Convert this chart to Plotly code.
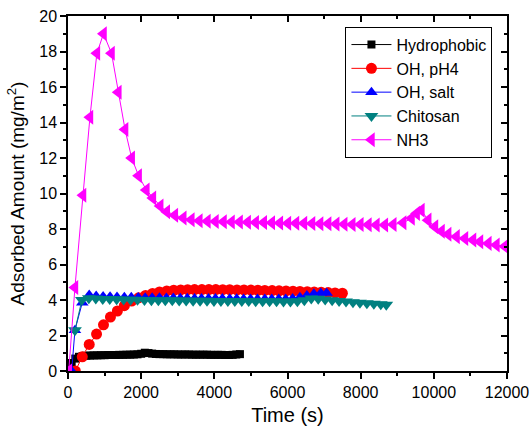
import plotly.graph_objects as go

# Adsorption kinetics: adsorbed amount (mg/m^2) vs time (s) for five surfaces

hydro_t = [0, 100, 200, 300, 400, 500, 600, 700, 800, 900, 1000, 1100, 1200, 1300,
           1400, 1500, 1600, 1700, 1800, 1900, 2000, 2100, 2200, 2300, 2400, 2500,
           2600, 2700, 2800, 2900, 3000, 3100, 3200, 3300, 3400, 3500, 3600, 3700,
           3800, 3900, 4000, 4100, 4200, 4300, 4400, 4500, 4600, 4700]
hydro_v = [0.05, 0.45, 0.7, 0.8, 0.84, 0.86, 0.87, 0.88, 0.88, 0.89, 0.89, 0.9, 0.9, 0.9,
           0.91, 0.91, 0.92, 0.92, 0.93, 0.94, 0.97, 1.03, 1.01, 0.98, 0.96, 0.95,
           0.95, 0.94, 0.94, 0.94, 0.93, 0.93, 0.93, 0.93, 0.92, 0.92, 0.92, 0.92,
           0.92, 0.91, 0.91, 0.91, 0.91, 0.9, 0.9, 0.91, 0.93, 0.95]

ph4_t = [200, 390, 580, 780, 970, 1160, 1350, 1540, 1740, 1930, 2120, 2310, 2500,
         2700, 2890, 3080, 3270, 3460, 3660, 3850, 4040, 4230, 4420, 4620, 4810,
         5000, 5190, 5380, 5580, 5770, 5960, 6150, 6340, 6540, 6730, 6920, 7110,
         7300, 7500]
ph4_v = [0.0, 0.8, 1.5, 2.08, 2.6, 3.04, 3.38, 3.68, 3.94, 4.12, 4.26, 4.37, 4.45,
         4.51, 4.55, 4.57, 4.58, 4.59, 4.59, 4.59, 4.59, 4.58, 4.58, 4.57, 4.57,
         4.56, 4.55, 4.54, 4.53, 4.52, 4.51, 4.5, 4.48, 4.47, 4.45, 4.44, 4.42,
         4.4, 4.38]

salt_t = [100, 190, 390, 580, 770, 960, 1150, 1340, 1540, 1730, 1920, 2110, 2300,
          2500, 2690, 2880, 3070, 3260, 3460, 3650, 3840, 4030, 4220, 4420, 4610,
          4800, 4990, 5180, 5380, 5570, 5760, 5950, 6140, 6340, 6530, 6720, 6910, 7070]
salt_v = [0.0, 2.3, 3.85, 4.28, 4.22, 4.2, 4.18, 4.17, 4.16, 4.15, 4.14, 4.13, 4.12,
          4.12, 4.11, 4.11, 4.1, 4.1, 4.09, 4.09, 4.08, 4.08, 4.08, 4.07, 4.07,
          4.06, 4.06, 4.06, 4.05, 4.05, 4.05, 4.05, 4.08, 4.15, 4.26, 4.35, 4.4, 4.4]

chito_t = [190, 380, 570, 760, 950, 1140, 1330, 1520, 1710, 1900, 2090, 2280, 2470,
           2660, 2850, 3040, 3230, 3420, 3610, 3800, 3990, 4180, 4370, 4560, 4750,
           4940, 5130, 5320, 5510, 5700, 5890, 6080, 6270, 6460, 6650, 6840, 7030,
           7220, 7410, 7600, 7790, 7980, 8170, 8360, 8550, 8700]
chito_v = [2.3, 4.0, 4.1, 4.08, 4.06, 4.05, 4.04, 4.03, 4.02, 4.01, 4.0, 3.99, 3.99,
           3.98, 3.98, 3.97, 3.97, 3.96, 3.96, 3.96, 3.95, 3.95, 3.95, 3.94, 3.94,
           3.94, 3.93, 3.93, 3.93, 3.93, 3.92, 3.92, 3.93, 3.98, 4.08, 4.07, 4.03,
           3.99, 3.95, 3.91, 3.88, 3.85, 3.82, 3.79, 3.76, 3.73]

nh3_t = [20, 190, 410, 600, 790, 970, 1190, 1375, 1560, 1740, 1930, 2140, 2320,
         2520, 2700, 2920, 3150, 3370, 3590, 3810, 4030, 4250, 4470, 4690, 4910,
         5130, 5350, 5570, 5790, 6010, 6230, 6450, 6670, 6890, 7110, 7330, 7550,
         7770, 7990, 8210, 8430, 8660, 8890, 9160, 9390, 9530, 9660, 9845, 10030,
         10210, 10390, 10620, 10850, 11070, 11260, 11490, 11710, 11940]
nh3_v = [0.0, 4.7, 9.9, 14.3, 17.9, 19.0, 17.9, 15.7, 13.6, 12.0, 11.0, 10.2, 9.75,
         9.3, 8.97, 8.78, 8.62, 8.52, 8.47, 8.44, 8.42, 8.41, 8.4, 8.39, 8.38,
         8.37, 8.36, 8.35, 8.34, 8.33, 8.33, 8.32, 8.31, 8.3, 8.29, 8.28, 8.27,
         8.26, 8.25, 8.24, 8.23, 8.22, 8.25, 8.35, 8.6, 8.88, 9.05, 8.5, 8.13,
         7.87, 7.7, 7.57, 7.47, 7.38, 7.28, 7.19, 7.1, 7.02]

series = [
    ("Hydrophobic", hydro_t, hydro_v, "#000000", "square", 8),
    ("OH, pH4", ph4_t, ph4_v, "#FF0000", "circle", 11),
    ("OH, salt", salt_t, salt_v, "#0000FF", "triangle-up", 11),
    ("Chitosan", chito_t, chito_v, "#008080", "triangle-down", 12),
    ("NH3", nh3_t, nh3_v, "#FF00FF", "triangle-left", 13),
]

fig = go.Figure()
for name, t, v, color, symbol, size in series:
    fig.add_trace(go.Scatter(
        x=t, y=v, name=name, mode="lines+markers",
        line=dict(color=color, width=1),
        marker=dict(symbol=symbol, size=size, color=color, line=dict(width=0)),
    ))

font_family = "Arial, Liberation Sans, sans-serif"
axis_common = dict(showline=True, linecolor="black", linewidth=1.5,
                   showgrid=False, zeroline=False, ticklen=6, tickwidth=1.5,
                   tickcolor="black", automargin=False)

fig.update_layout(
    width=532, height=432,
    margin=dict(l=68, r=25, t=16, b=61),
    paper_bgcolor="white", plot_bgcolor="white",
    font=dict(family=font_family, size=16, color="black"),
    showlegend=True,
    legend=dict(x=0.632, y=0.97, xanchor="left", yanchor="top",
                bordercolor="black", borderwidth=1, bgcolor="white",
                font=dict(size=16), tracegroupgap=0, itemwidth=40),
    xaxis=dict(range=[0, 12000], dtick=2000, ticks="outside", tickformat="d",
               minor=dict(ticks="outside", dtick=1000, ticklen=3, tickcolor="black"),
               title=dict(text="Time (s)", font=dict(size=20), standoff=8),
               tickfont=dict(size=16), **axis_common),
    yaxis=dict(range=[0, 20], dtick=2, ticks="outside",
               minor=dict(ticks="outside", dtick=1, ticklen=3, tickcolor="black"),
               title=dict(text="Adsorbed Amount (mg/m<sup>2</sup>)", font=dict(size=19),
                          standoff=10),
               tickfont=dict(size=16), **axis_common),
    # mirrored frame with inward ticks on top and right
    xaxis2=dict(range=[0, 12000], dtick=2000, ticks="inside", overlaying="x",
                side="top", showticklabels=False,
                minor=dict(ticks="inside", dtick=1000, ticklen=3, tickcolor="black"),
                **axis_common),
    yaxis2=dict(range=[0, 20], dtick=2, ticks="inside", overlaying="y",
                side="right", showticklabels=False,
                minor=dict(ticks="inside", dtick=1, ticklen=3, tickcolor="black"),
                **axis_common),
)

# invisible trace to activate the mirrored axes
fig.add_trace(go.Scatter(x=[None], y=[None], xaxis="x2", yaxis="y2",
                         showlegend=False, hoverinfo="skip"))

fig.write_html("out.html")
